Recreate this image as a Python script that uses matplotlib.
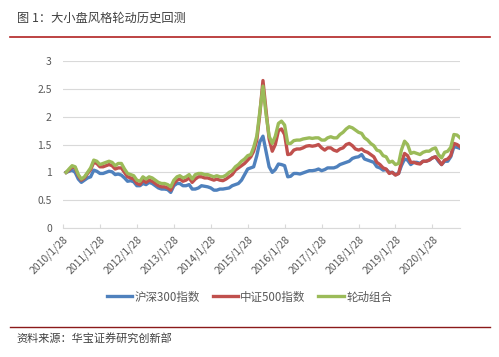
import numpy as np
import pandas as pd
import matplotlib
matplotlib.use('Agg')
import matplotlib.pyplot as plt
from matplotlib.lines import Line2D

plt.rcParams['font.family'] = ['Noto Sans CJK SC', 'DejaVu Sans']

# monthly points, 28th of each month, 2010/1 .. 2020/9
dates = pd.date_range('2010-01-28', periods=129, freq='MS') + pd.Timedelta(days=27)

hs300 = [
    1.00, 1.02, 1.04, 1.00, 0.88, 0.82, 0.86, 0.90, 0.92, 1.04, 1.02, 0.98,  # 2010
    0.98, 1.00, 1.02, 1.01, 0.96, 0.97, 0.95, 0.90, 0.84, 0.85, 0.83, 0.76,  # 2011
    0.76, 0.80, 0.78, 0.82, 0.80, 0.76, 0.72, 0.70, 0.70, 0.69, 0.64, 0.76,  # 2012
    0.80, 0.80, 0.76, 0.76, 0.78, 0.70, 0.70, 0.72, 0.76, 0.75, 0.74, 0.72,  # 2013
    0.68, 0.68, 0.70, 0.70, 0.71, 0.72, 0.76, 0.78, 0.80, 0.86, 0.96, 1.06,  # 2014
    1.08, 1.10, 1.30, 1.55, 1.65, 1.38, 1.10, 1.00, 1.05, 1.15, 1.14, 1.12,  # 2015
    0.92, 0.93, 0.98, 0.98, 0.97, 0.99, 1.01, 1.03, 1.03, 1.04, 1.06, 1.03,  # 2016
    1.05, 1.08, 1.08, 1.08, 1.10, 1.14, 1.16, 1.18, 1.20, 1.25, 1.27, 1.28,  # 2017
    1.32, 1.24, 1.22, 1.20, 1.18, 1.10, 1.08, 1.04, 1.05, 1.00, 1.00, 0.96,  # 2018
    0.98, 1.12, 1.24, 1.22, 1.14, 1.18, 1.18, 1.16, 1.20, 1.20, 1.22, 1.26,  # 2019
    1.28, 1.20, 1.14, 1.20, 1.20, 1.28, 1.46, 1.45, 1.43,                    # 2020
]
zz500 = [
    1.00, 1.04, 1.10, 1.08, 0.94, 0.86, 0.90, 0.98, 1.05, 1.18, 1.16, 1.10,
    1.10, 1.12, 1.14, 1.12, 1.06, 1.08, 1.08, 1.00, 0.92, 0.90, 0.88, 0.80,
    0.78, 0.86, 0.82, 0.86, 0.84, 0.80, 0.76, 0.74, 0.74, 0.72, 0.68, 0.80,
    0.86, 0.88, 0.84, 0.86, 0.90, 0.82, 0.88, 0.92, 0.92, 0.90, 0.90, 0.88,
    0.86, 0.88, 0.86, 0.85, 0.88, 0.92, 0.96, 1.04, 1.08, 1.12, 1.16, 1.22,
    1.28, 1.38, 1.58, 2.05, 2.65, 2.12, 1.60, 1.38, 1.50, 1.75, 1.78, 1.68,
    1.32, 1.33, 1.40, 1.42, 1.42, 1.44, 1.47, 1.48, 1.47, 1.48, 1.50, 1.44,
    1.40, 1.44, 1.44, 1.40, 1.38, 1.42, 1.44, 1.50, 1.52, 1.48, 1.42, 1.40,
    1.42, 1.38, 1.36, 1.32, 1.28, 1.18, 1.14, 1.08, 1.06, 0.98, 1.00, 0.95,
    0.98, 1.18, 1.34, 1.30, 1.18, 1.18, 1.16, 1.15, 1.20, 1.20, 1.22, 1.26,
    1.28, 1.22, 1.14, 1.22, 1.24, 1.30, 1.52, 1.50, 1.46,
]
rotation = [
    1.00, 1.06, 1.12, 1.10, 0.96, 0.88, 0.92, 1.00, 1.08, 1.22, 1.20, 1.14,
    1.16, 1.18, 1.20, 1.18, 1.12, 1.16, 1.16, 1.06, 0.98, 0.96, 0.94, 0.86,
    0.84, 0.92, 0.88, 0.92, 0.90, 0.86, 0.82, 0.80, 0.80, 0.78, 0.74, 0.86,
    0.92, 0.94, 0.90, 0.92, 0.96, 0.88, 0.96, 0.98, 0.98, 0.96, 0.96, 0.94,
    0.92, 0.94, 0.92, 0.92, 0.95, 1.00, 1.03, 1.10, 1.14, 1.20, 1.24, 1.30,
    1.32, 1.45, 1.65, 2.10, 2.55, 2.05, 1.65, 1.52, 1.65, 1.88, 1.92, 1.85,
    1.52, 1.52, 1.57, 1.58, 1.58, 1.60, 1.61, 1.62, 1.61, 1.62, 1.62, 1.58,
    1.58, 1.62, 1.64, 1.62, 1.62, 1.68, 1.72, 1.78, 1.82, 1.80, 1.76, 1.72,
    1.70, 1.62, 1.58, 1.52, 1.48, 1.40, 1.38, 1.30, 1.28, 1.18, 1.20, 1.14,
    1.16, 1.40, 1.56, 1.50, 1.34, 1.36, 1.34, 1.32, 1.36, 1.38, 1.38, 1.42,
    1.44, 1.32, 1.26, 1.36, 1.38, 1.45, 1.68, 1.67, 1.62,
]
names = ['沪深300指数', '中证500指数', '轮动组合']
colors = ['#4F81BD', '#C0504D', '#9BBB59']
tick_years = list(range(2010, 2021))

fig = plt.figure(figsize=(4.99, 3.57), dpi=100)
ax = fig.add_axes([0.1263, 0.3613, 0.7957, 0.4677])

for vals, c in zip([hs300, zz500, rotation], colors):
    ax.plot(dates, vals, color=c, linewidth=2.4, solid_joinstyle='round')

ax.set_ylim(0, 3)
ax.set_yticks(np.arange(0, 3.01, 0.5))
ax.set_yticklabels(['0', '0.5', '1', '1.5', '2', '2.5', '3'])
ax.set_xlim(dates[0], dates[-1])
ax.set_xticks([pd.Timestamp(f'{y}-01-28') for y in tick_years])
ax.set_xticklabels([f'{y}/1/28' for y in tick_years], rotation=45,
                   ha='right', va='top', rotation_mode='anchor')

ax.grid(axis='y', color='#D9D9D9', linewidth=0.8)
ax.set_axisbelow(True)
for s in ['top', 'right', 'left']:
    ax.spines[s].set_visible(False)
ax.spines['bottom'].set_color('#D9D9D9')
ax.tick_params(axis='y', length=0, labelsize=7.5, labelcolor='#595959', pad=8)
ax.tick_params(axis='x', direction='in', length=3, color='#D9D9D9',
               labelsize=7.5, labelcolor='#595959', pad=4)

handles = [Line2D([0], [0], color=c, linewidth=2.4) for c in colors]
fig.legend(handles, names, loc='center', bbox_to_anchor=(0.5, 0.168), ncol=3,
           frameon=False, fontsize=8.3, handlelength=2.2, handletextpad=0.2,
           columnspacing=1.1, labelcolor='#595959')

fig.text(0.034, 0.95, '图 1：大小盘风格轮动历史回测', fontsize=8.8, color='#404040',
         va='center', ha='left')
fig.add_artist(Line2D([0.02, 0.982], [0.896, 0.896], color='#B22222', linewidth=1.2))
fig.add_artist(Line2D([0.02, 0.982], [0.085, 0.085], color='#8B1A1A', linewidth=1.0))
fig.text(0.034, 0.053, '资料来源：华宝证券研究创新部', fontsize=8, color='#404040',
         va='center', ha='left')

fig.savefig('out.png', dpi=100)
